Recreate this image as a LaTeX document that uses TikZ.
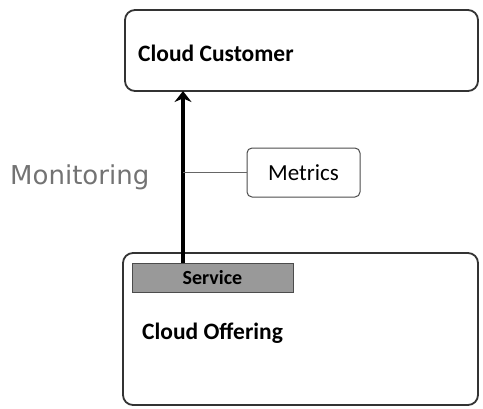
\documentclass[tikz,border=0pt]{standalone}
\usepackage{fontspec}
\setmainfont{Carlito}
\newfontfamily\monfont{DejaVu Sans}
\usetikzlibrary{arrows.meta}
\begin{document}
\begin{tikzpicture}[x=1pt,y=-1pt,
  bigbox/.style={draw=black!80,line width=1.8pt,rounded corners=10pt},
  smallbox/.style={draw=black!70,line width=1pt,rounded corners=5pt},
  lbl/.style={font=\bfseries\fontsize{23.5}{26}\selectfont,anchor=west,inner sep=0pt}]
\useasboundingbox (0,0) rectangle (483,408);
% containers
\draw[bigbox] (125,10) rectangle (478,91);
\node[lbl] (cust) at (138,53) {Cloud Customer};
\coordinate (custbot) at (183,91);
\draw[bigbox] (123,253) rectangle (478,405);
\node[lbl] (offer) at (142,333) {Cloud Offering};
% service tab
\node[draw=black!70,fill=black!40,line width=1pt,minimum width=161pt,minimum height=29pt,inner sep=0pt,
  font=\bfseries\fontsize{20}{22}\selectfont] (svc) at (212.5,278) {Service};
% monitoring flow
\draw[line width=3.5pt,-{Stealth[length=11pt,width=17pt]}] (svc.north -| custbot) -- (custbot);
\node[smallbox,minimum width=113pt,minimum height=49pt,font=\fontsize{23}{26}\selectfont] (metrics) at (303.5,172.5) {Metrics};
\coordinate (tap) at (183,172.5);
\draw[black!60,line width=0.8pt] (tap) -- (metrics.west);
\node[text=black!55,font=\monfont\fontsize{26}{29}\selectfont,anchor=west,inner sep=0pt] (mon) at (10,177) {Monitoring};
\end{tikzpicture}
\end{document}
